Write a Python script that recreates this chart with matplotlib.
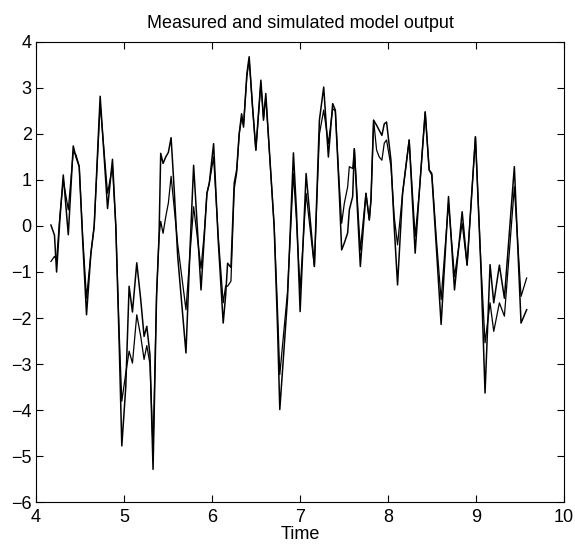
import matplotlib
matplotlib.use("Agg")
import matplotlib.pyplot as plt

plt.rcParams['font.family'] = ['Liberation Sans', 'DejaVu Sans']

# time points
t = [4.17, 4.21, 4.234, 4.27, 4.31, 4.367, 4.423, 4.454, 4.491, 4.53,
     4.574, 4.624, 4.661, 4.729, 4.813, 4.869, 4.907, 4.945, 4.975, 5.02,
     5.058, 5.096, 5.145, 5.19, 5.228, 5.259, 5.295, 5.33, 5.37, 5.398,
     5.417, 5.444, 5.474, 5.504, 5.535, 5.57, 5.61, 5.704, 5.75, 5.791,
     5.875, 5.91, 5.942, 5.969, 6.018, 6.07, 6.127, 6.155, 6.177, 6.215,
     6.252, 6.28, 6.309, 6.336, 6.358, 6.396, 6.422, 6.46, 6.498, 6.555,
     6.585, 6.611, 6.668, 6.706, 6.744, 6.770, 6.857, 6.925, 6.96, 7.001,
     7.069, 7.163, 7.22, 7.269, 7.322, 7.371, 7.401, 7.446, 7.473, 7.503,
     7.541, 7.56, 7.598, 7.617, 7.685, 7.749, 7.787, 7.806, 7.836, 7.870,
     7.900, 7.930, 7.957, 7.983, 8.033, 8.070, 8.108, 8.165, 8.240, 8.308,
     8.354, 8.422, 8.467, 8.497, 8.55, 8.603, 8.687, 8.755, 8.842, 8.898,
     8.993, 9.057, 9.102, 9.159, 9.201, 9.265, 9.322, 9.435, 9.511, 9.575]

# measured output
y_meas = [0.02, -0.2, -1.0, 0.1, 1.11, -0.19, 1.74, 1.5, 1.29, -0.3,
          -1.93, -0.59, -0.01, 2.82, 0.38, 1.45, -0.01, -2.54, -4.78, -3.5,
          -1.31, -1.87, -0.8, -1.6, -2.4, -2.18, -2.8, -5.29, -1.5, -0.23,
          1.58, 1.36, 1.5, 1.6, 1.92, 0.8, -0.66, -2.76, -0.5, 1.32,
          -1.39, -0.3, 0.71, 0.93, 1.79, -0.3, -2.11, -1.5, -0.81, -0.9,
          0.93, 1.22, 2.01, 2.44, 2.15, 3.31, 3.68, 2.6, 1.65, 3.17,
          2.3, 2.88, 1.14, -0.01, -2.18, -3.99, -1.6, 1.59, 0.3, -1.86,
          1.14, -0.88, 2.3, 3.02, 1.5, 2.66, 2.52, 0.71, -0.52, -0.37,
          -0.15, 0.35, 0.64, 1.68, -0.88, 0.71, 0.13, 0.57, 2.3, 2.19,
          2.08, 1.97, 2.22, 2.26, 1.43, -0.01, -1.28, 0.71, 1.87, -0.59,
          0.71, 2.48, 1.22, 1.11, -0.5, -2.14, 0.64, -1.39, 0.31, -0.85,
          1.94, -1.0, -3.63, -0.84, -1.67, -0.85, -1.57, 1.29, -2.11, -1.82]

# simulated model output
y_sim = [-0.77, -0.66, -0.75, 0.2, 1.0, 0.35, 1.61, 1.55, 1.3, -0.2,
         -1.57, -0.59, -0.01, 2.66, 0.71, 1.29, -0.01, -2.3, -3.81, -3.2,
         -2.72, -2.98, -1.93, -2.4, -2.9, -2.6, -3.0, -4.85, -1.5, -0.23,
         0.10, -0.16, 0.2, 0.5, 1.08, 0.4, -0.4, -1.82, -0.6, 0.42,
         -0.92, -0.2, 0.71, 0.93, 1.5, -0.2, -1.67, -1.3, -1.31, -1.2,
         0.8, 1.15, 2.0, 2.35, 2.2, 3.25, 3.62, 2.6, 1.65, 3.1,
         2.35, 2.8, 1.14, 0.0, -1.8, -3.23, -1.45, 1.14, 0.1, -1.39,
         0.71, -0.88, 2.0, 2.52, 1.79, 2.55, 2.5, 0.9, 0.06, 0.49,
         0.85, 1.29, 1.25, 1.68, -0.52, 0.71, 0.13, 0.57, 2.3, 1.65,
         1.5, 1.43, 1.8, 1.87, 1.3, 0.2, -0.41, 0.71, 1.87, -0.23,
         0.71, 2.48, 1.22, 1.15, -0.3, -1.6, 0.5, -1.1, 0.06, -0.85,
         1.94, -0.9, -2.54, -1.67, -2.29, -1.67, -1.96, 0.85, -1.53, -1.13]

fig = plt.figure(figsize=(5.75, 5.44), dpi=100)
ax = fig.add_axes([0.0626, 0.0772, 0.9184, 0.8456])

ax.plot(t, y_meas, color='black', lw=1.1)
ax.plot(t, y_sim, color='black', lw=0.9)

ax.set_xlim(4, 10)
ax.set_ylim(-6, 4)
ax.set_xticks(range(4, 11))
ax.set_yticks(range(-6, 5))
ax.tick_params(direction='in', length=5, width=0.8, labelsize=13,
               top=True, right=True)
ax.tick_params(axis='x', pad=5)
ax.tick_params(axis='y', pad=3)
for s in ax.spines.values():
    s.set_linewidth(0.8)

ax.set_title("Measured and simulated model output", fontsize=13, pad=10)
ax.set_xlabel("Time", fontsize=13, labelpad=0)

fig.savefig("out.png", dpi=100)
